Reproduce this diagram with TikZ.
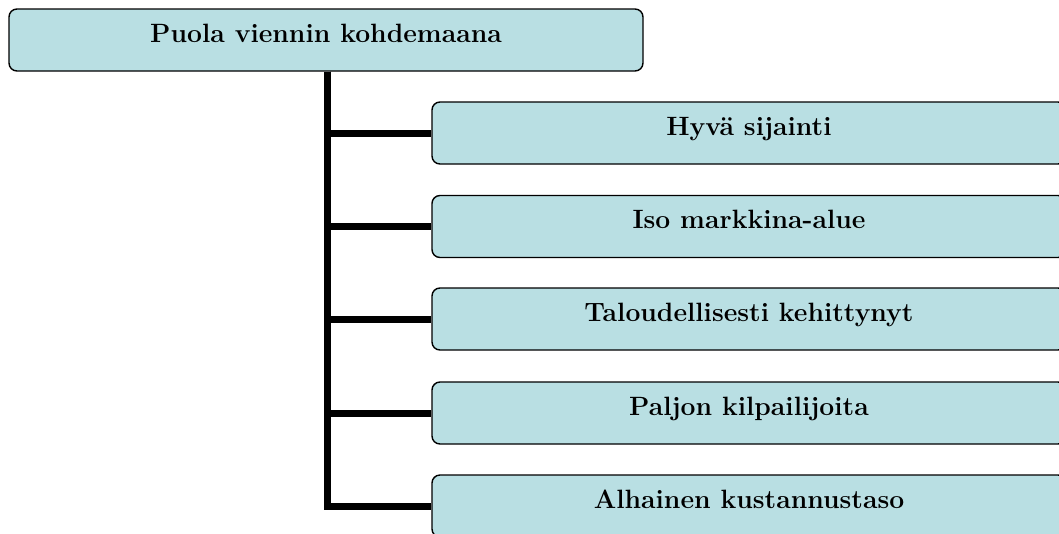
\documentclass[tikz,border=0pt]{standalone}
\usepackage{fontspec}
\begin{document}
\begin{tikzpicture}[x=1pt,y=-1pt,
  box/.style={draw=black, line width=1.4pt, fill=boxfill, rounded corners=8pt,
    minimum width=634pt, minimum height=62pt, inner sep=0pt,
    text height=12pt, text depth=8pt, font=\fontsize{26.5}{31}\selectfont\bfseries},
  conn/.style={line width=7pt, line join=miter, line cap=butt}]
\definecolor{boxfill}{RGB}{185,223,227}
\useasboundingbox (0,0) rectangle (1059,533);
\clip (0,0) rectangle (1059,533);
\node[box] (top) at (326,40) {Puola viennin kohdemaana};
\node[box] (b1) at (749,133) {Hyvä sijainti};
\node[box] (b2) at (749,226.5) {Iso markkina-alue};
\node[box] (b3) at (749,319) {Taloudellisesti kehittynyt};
\node[box] (b4) at (749,413) {Paljon kilpailijoita};
\node[box] (b5) at (749,506) {Alhainen kustannustaso};
\coordinate (v) at (327,71.7);
\foreach \b in {b1,b2,b3,b4,b5}{
  \draw[conn] (v) |- (\b.west);
}
\end{tikzpicture}
\end{document}
